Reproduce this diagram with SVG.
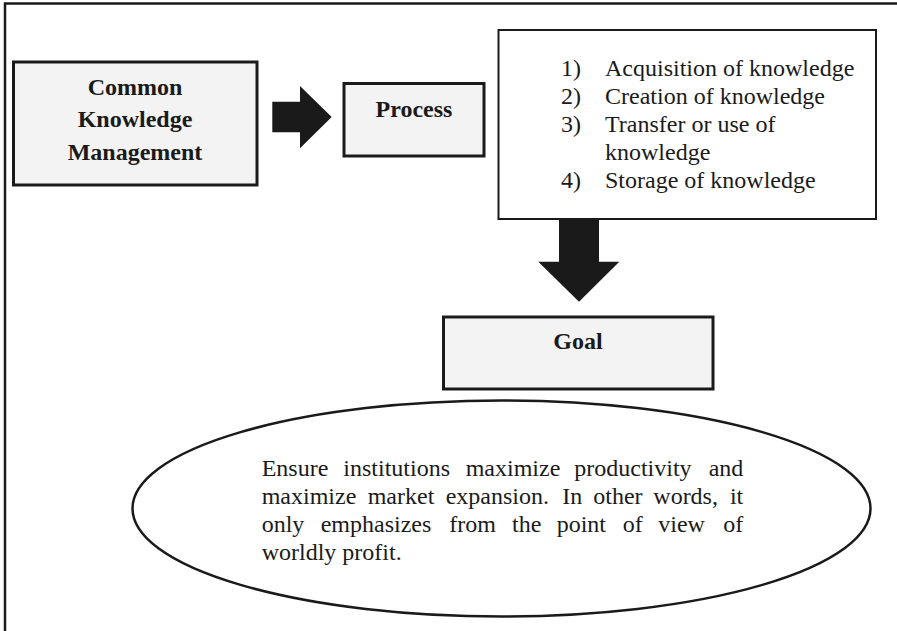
<svg xmlns="http://www.w3.org/2000/svg" width="897" height="631" viewBox="0 0 897 631">
<style>
.box{fill:#f3f3f3;stroke:#1a1a1a;stroke-width:3}
.lbox{fill:#ffffff;stroke:#1a1a1a;stroke-width:2}
.bold{font-family:"Liberation Serif","Times New Roman",serif;font-weight:bold;font-size:24px;fill:#1a1a1a;text-anchor:middle}
.reg{font-family:"Liberation Serif","Times New Roman",serif;font-size:24px;fill:#1a1a1a}
.arrow{fill:#1a1a1a}
</style>
<rect width="897" height="631" fill="#ffffff"/>
<g id="frame">
<path d="M5,631 V3.5 H897" fill="none" stroke="#1a1a1a" stroke-width="2.5"/>
</g>
<g id="ckm">
<rect class="box" x="13.5" y="62" width="243.5" height="123"/>
<text class="bold" x="135" y="95">Common</text>
<text class="bold" x="135" y="127">Knowledge</text>
<text class="bold" x="135" y="160">Management</text>
</g>
<g id="process">
<rect class="box" x="344" y="83.5" width="140" height="72.5"/>
<text class="bold" x="414" y="117">Process</text>
</g>
<g id="list">
<rect class="lbox" x="498.5" y="30" width="377.5" height="189"/>
<text class="reg" x="561" y="76">1)</text>
<text class="reg" x="605" y="76">Acquisition of knowledge</text>
<text class="reg" x="561" y="104">2)</text>
<text class="reg" x="605" y="104">Creation of knowledge</text>
<text class="reg" x="561" y="132">3)</text>
<text class="reg" x="605" y="132">Transfer or use of</text>
<text class="reg" x="605" y="160">knowledge</text>
<text class="reg" x="561" y="188">4)</text>
<text class="reg" x="605" y="188">Storage of knowledge</text>
</g>
<g id="goal">
<rect class="box" x="443.5" y="317" width="269.5" height="72"/>
<text class="bold" x="578" y="349">Goal</text>
</g>
<g id="goal-desc">
<ellipse cx="501.5" cy="508.5" rx="369" ry="108" fill="#ffffff" stroke="#1a1a1a" stroke-width="2.5"/>
<text class="reg" y="476"><tspan x="261.7">Ensure</tspan><tspan x="343.3">institutions</tspan><tspan x="465.7">maximize</tspan><tspan x="574.3">productivity</tspan><tspan x="743.3" text-anchor="end">and</tspan></text>
<text class="reg" y="504"><tspan x="261.7">maximize</tspan><tspan x="367.7">market</tspan><tspan x="445.7">expansion.</tspan><tspan x="562.3">In</tspan><tspan x="593.3">other</tspan><tspan x="653.3">words,</tspan><tspan x="743.3" text-anchor="end">it</tspan></text>
<text class="reg" y="532"><tspan x="261.7">only</tspan><tspan x="320.7">emphasizes</tspan><tspan x="449.3">from</tspan><tspan x="512">the</tspan><tspan x="556.7">point</tspan><tspan x="622.7">of</tspan><tspan x="658.3">view</tspan><tspan x="743.3" text-anchor="end">of</tspan></text>
<text class="reg" x="261.7" y="560">worldly profit.</text>
</g>
<g id="connectors">
<polygon class="arrow" points="272.3,101.7 300,101.7 300,86 331.7,117 300,148.3 300,132.3 272.3,132.3"/>
<polygon class="arrow" points="559,219 599,219 599,261.7 619.3,261.7 579,301.7 538.3,261.7 559,261.7"/>
</g>
</svg>
